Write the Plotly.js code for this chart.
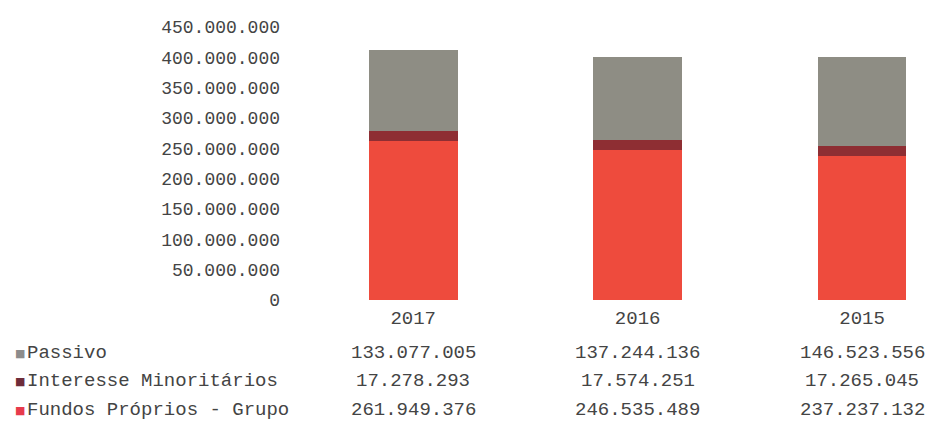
<!DOCTYPE html>
<html>
<head>
<meta charset="utf-8">
<script src="https://cdn.plot.ly/plotly-3.0.1.min.js"></script>
<style>
html,body{margin:0;padding:0;background:#fff;}
#chart{width:927px;height:434px;}
</style>
</head>
<body>
<div id="chart"></div>
<script>
// ---- data ----
var years = ['2017', '2016', '2015'];
var seriesNames = ['Passivo', 'Interesse Minoritários', 'Fundos Próprios - Grupo'];
var passivo = [133077005, 137244136, 146523556];
var interesse = [17278293, 17574251, 17265045];
var fundos = [261949376, 246535489, 237237132];

// ---- styles ----
var barColors = {fundos: '#ee4b3d', interesse: '#8e2e33', passivo: '#8e8d84'};
var keyColors = ['#8c8c8c', '#6e2c3a', '#e73a4c'];
var textColor = '#444444';
var mono = 'Liberation Mono, Courier New, monospace';

function fmt(n) {
  return String(n).replace(/\B(?=(\d{3})+(?!\d))/g, '.');
}

var traces = [
  {type: 'bar', name: seriesNames[2], x: years, y: fundos, marker: {color: barColors.fundos}},
  {type: 'bar', name: seriesNames[1], x: years, y: interesse, marker: {color: barColors.interesse}},
  {type: 'bar', name: seriesNames[0], x: years, y: passivo, marker: {color: barColors.passivo}}
];

var L = 300.75, W = 927, T = 27, H = 434, B = 134;
var plotW = W - L, plotH = H - T - B;
var catW = 224.5;

var rows = [passivo, interesse, fundos];
var rowY = [353, 381, 410];
var annotations = [];
rows.forEach(function (vals, r) {
  var yp = (T + plotH - rowY[r]) / plotH;
  vals.forEach(function (v, i) {
    annotations.push({
      xref: 'x', yref: 'paper', x: i, y: yp,
      text: fmt(v), showarrow: false, xanchor: 'center', yanchor: 'middle',
      font: {family: mono, size: 19, color: textColor}
    });
  });
  annotations.push({
    xref: 'paper', yref: 'paper', x: (25 - L) / plotW, y: yp,
    text: seriesNames[r], showarrow: false, xanchor: 'left', yanchor: 'middle',
    font: {family: mono, size: 19, color: textColor}
  });
  annotations.push({
    xref: 'paper', yref: 'paper', x: (20 - L) / plotW, y: yp,
    text: '■', showarrow: false, xanchor: 'center', yanchor: 'middle',
    font: {family: 'DejaVu Sans', size: 11, color: keyColors[r]}
  });
});

var layout = {
  width: W, height: H,
  margin: {l: L, r: 0, t: T, b: B, pad: 0},
  paper_bgcolor: '#ffffff', plot_bgcolor: '#ffffff',
  barmode: 'stack',
  bargap: 0.604,
  showlegend: false,
  separators: ',.',
  xaxis: {
    type: 'category', range: [-0.5, plotW / catW - 0.5],
    showgrid: false, zeroline: false, showline: false, ticks: '',
    tickfont: {family: mono, size: 19, color: textColor},
    ticklabelstandoff: 4
  },
  yaxis: {
    range: [0, 450000000], dtick: 50000000, tick0: 0,
    tickformat: ',d',
    showgrid: false, zeroline: false, showline: false, ticks: '',
    tickfont: {family: mono, size: 18, color: textColor},
    ticklabelstandoff: 20
  },
  annotations: annotations
};

Plotly.newPlot('chart', traces, layout, {displayModeBar: false, staticPlot: true});
</script>
</body>
</html>
